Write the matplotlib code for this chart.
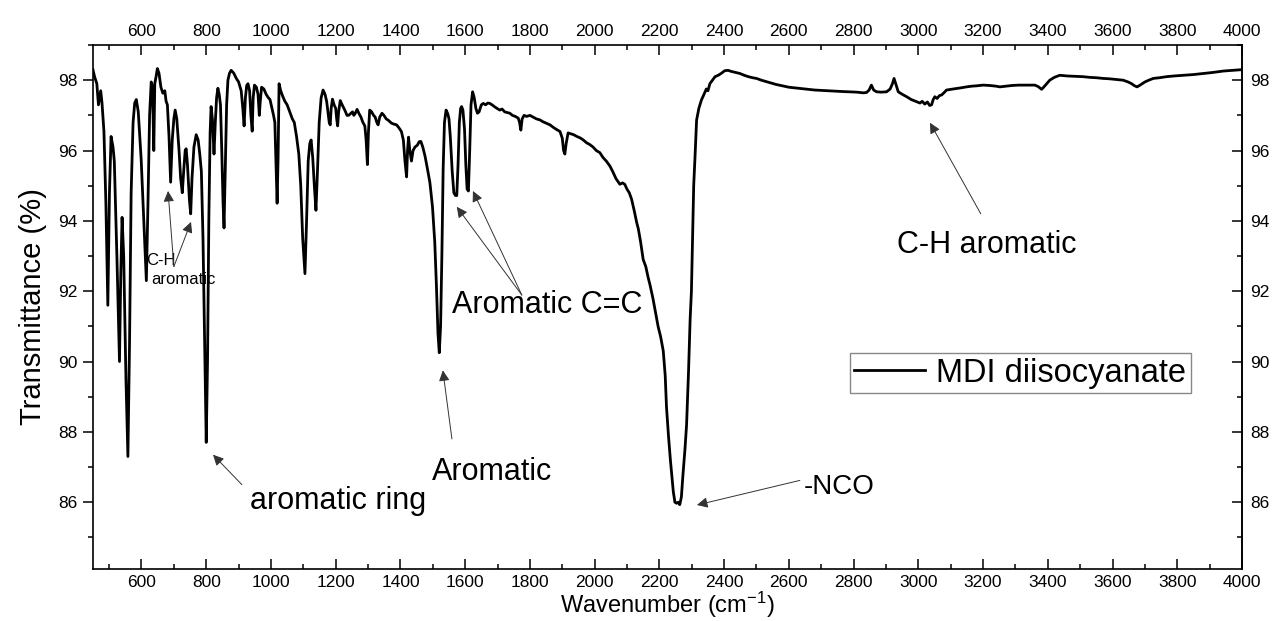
import matplotlib
matplotlib.use("Agg")
import matplotlib.pyplot as plt
from matplotlib.ticker import MultipleLocator

plt.rcParams['font.family'] = ['Liberation Sans', 'DejaVu Sans']
plt.rcParams['mathtext.fontset'] = 'custom'
plt.rcParams['mathtext.rm'] = 'Liberation Sans'
plt.rcParams['mathtext.it'] = 'Liberation Sans'
plt.rcParams['mathtext.bf'] = 'Liberation Sans:bold'

wavenumber = [
    450, 455, 462, 467, 474, 478, 484, 490, 496, 501, 506, 512, 516, 524, 532, 536, 540, 545, 552, 558,
    563, 568, 574, 579, 584, 590, 599, 607, 615, 620, 625, 630, 634, 638, 641, 645, 649, 654, 660, 666,
    672, 676, 680, 685, 690, 695, 700, 704, 709, 716, 721, 726, 731, 735, 738, 742, 748, 752, 756, 762,
    769, 775, 780, 785, 790, 795, 800, 804, 808, 812, 815, 819, 824, 828, 832, 836, 840, 844, 848, 852,
    855, 859, 863, 867, 872, 877, 885, 893, 900, 908, 913, 917, 921, 925, 929, 934, 938, 942, 945, 949,
    955, 960, 964, 967, 971, 978, 985, 992, 997, 1002, 1008, 1012, 1016, 1019, 1022, 1025, 1030, 1036, 1043, 1050,
    1058, 1066, 1072, 1079, 1086, 1092, 1098, 1105, 1110, 1115, 1120, 1124, 1129, 1134, 1139, 1144, 1149, 1155, 1161, 1167,
    1172, 1176, 1180, 1183, 1186, 1190, 1195, 1200, 1203, 1206, 1209, 1214, 1220, 1228, 1235, 1240, 1246, 1252, 1256, 1260,
    1266, 1272, 1278, 1284, 1290, 1294, 1298, 1301, 1305, 1311, 1317, 1322, 1327, 1331, 1336, 1343, 1349, 1356, 1364, 1372,
    1380, 1388, 1395, 1403, 1409, 1414, 1419, 1422, 1425, 1429, 1434, 1439, 1445, 1452, 1458, 1463, 1469, 1476, 1483, 1491,
    1499, 1506, 1511, 1516, 1520, 1524, 1528, 1532, 1536, 1541, 1546, 1550, 1554, 1560, 1565, 1570, 1574, 1578, 1582, 1586,
    1589, 1593, 1598, 1602, 1606, 1610, 1614, 1618, 1623, 1628, 1633, 1638, 1643, 1650, 1656, 1663, 1670, 1676, 1683, 1690,
    1698, 1707, 1714, 1722, 1730, 1738, 1746, 1755, 1764, 1768, 1772, 1776, 1782, 1790, 1800, 1810, 1820, 1831, 1840, 1850,
    1862, 1872, 1882, 1893, 1900, 1904, 1908, 1912, 1918, 1925, 1935, 1945, 1955, 1965, 1975, 1985, 1995, 2005, 2016, 2026,
    2036, 2047, 2056, 2066, 2078, 2086, 2093, 2100, 2107, 2114, 2122, 2130, 2135, 2142, 2150, 2158, 2165, 2171, 2180, 2188,
    2196, 2204, 2212, 2218, 2222, 2228, 2234, 2238, 2243, 2248, 2253, 2258, 2263, 2268, 2273, 2279, 2284, 2290, 2295, 2299,
    2303, 2306, 2310, 2315, 2322, 2330, 2338, 2345, 2350, 2356, 2364, 2372, 2382, 2392, 2402, 2412, 2422, 2436, 2449, 2462,
    2475, 2488, 2500, 2515, 2530, 2545, 2560, 2580, 2600, 2620, 2640, 2660, 2680, 2700, 2720, 2740, 2760, 2789, 2810, 2830,
    2840, 2848, 2855, 2862, 2871, 2885, 2902, 2913, 2920, 2925, 2930, 2938, 2950, 2964, 2978, 2994, 3005, 3012, 3020, 3028,
    3035, 3041, 3046, 3051, 3058, 3065, 3072, 3080, 3087, 3100, 3115, 3130, 3149, 3165, 3180, 3200, 3220, 3240, 3252, 3270,
    3290, 3310, 3324, 3345, 3360, 3370, 3381, 3392, 3406, 3420, 3437, 3460, 3485, 3509, 3530, 3550, 3571, 3590, 3610, 3633,
    3648, 3659, 3668, 3676, 3685, 3700, 3712, 3726, 3745, 3767, 3790, 3818, 3850, 3880, 3910, 3942, 3970, 4000,
]

transmittance = [
    98.3, 98.1, 97.9, 97.3, 97.7, 97.35, 96.54, 94.5, 91.6, 94.8, 96.4, 96.1, 95.7, 93.0, 90.0, 92.5, 94.1, 93.0, 89.5, 87.3,
    90.5, 94.8, 96.8, 97.35, 97.45, 97.1, 95.75, 94.0, 92.3, 94.5, 97.0, 97.95, 97.8, 96.0, 97.9, 98.1, 98.33, 98.2, 97.8, 97.63,
    97.7, 97.4, 97.3, 96.4, 95.1, 96.3, 96.9, 97.15, 96.9, 96.0, 95.2, 94.8, 95.5, 96.0, 96.05, 95.6, 94.6, 94.2, 95.2, 96.1,
    96.45, 96.3, 95.9, 95.4, 93.5, 90.5, 87.7, 90.0, 94.0, 96.5, 97.25, 96.9, 95.9, 96.8, 97.5, 97.77, 97.6, 97.3, 96.0, 94.5,
    93.8, 95.5, 97.3, 98.0, 98.2, 98.28, 98.2, 98.05, 97.95, 97.7, 97.2, 96.7, 97.5, 97.85, 97.9, 97.7, 97.0, 96.55, 97.5, 97.86,
    97.8, 97.6, 97.0, 97.4, 97.8, 97.75, 97.6, 97.5, 97.45, 97.25, 97.0, 96.8, 95.5, 94.5, 95.8, 97.9, 97.7, 97.55, 97.4, 97.3,
    97.1, 96.9, 96.8, 96.4, 95.9, 95.0, 93.5, 92.5, 94.0, 95.7, 96.2, 96.3, 95.8, 95.0, 94.3, 95.5, 96.8, 97.5, 97.72, 97.6,
    97.4, 97.1, 96.8, 96.73, 97.2, 97.46, 97.3, 97.2, 96.9, 96.7, 97.1, 97.42, 97.3, 97.15, 97.0, 97.0, 97.05, 97.1, 97.0, 97.05,
    97.17, 97.05, 96.95, 96.8, 96.7, 96.3, 95.6, 96.5, 97.15, 97.1, 97.0, 96.95, 96.8, 96.73, 96.95, 97.06, 97.0, 96.9, 96.85, 96.78,
    96.75, 96.73, 96.65, 96.54, 96.3, 95.7, 95.25, 96.0, 96.38, 96.0, 95.7, 96.0, 96.1, 96.15, 96.25, 96.26, 96.1, 95.84, 95.5, 95.09,
    94.4, 93.4, 92.2, 90.8, 90.25, 91.0, 93.0, 95.5, 96.8, 97.15, 97.05, 96.9, 96.4, 95.4, 94.8, 94.72, 94.72, 95.6, 96.8, 97.2,
    97.25, 97.15, 96.6, 95.6, 94.9, 94.85, 96.0, 97.3, 97.67, 97.5, 97.2, 97.06, 97.1, 97.3, 97.34, 97.3, 97.35, 97.34, 97.3, 97.25,
    97.2, 97.15, 97.18, 97.1, 97.08, 97.06, 97.0, 96.97, 96.92, 96.8, 96.58, 96.9, 97.0, 96.97, 97.0, 96.95, 96.9, 96.87, 96.82, 96.78,
    96.73, 96.66, 96.6, 96.54, 96.35, 96.0, 95.9, 96.2, 96.5, 96.48, 96.45, 96.4, 96.36, 96.3, 96.22, 96.17, 96.1, 96.0, 95.94, 95.8,
    95.7, 95.56, 95.4, 95.2, 95.04, 95.08, 95.04, 94.9, 94.8, 94.62, 94.3, 93.95, 93.77, 93.4, 92.9, 92.7, 92.4, 92.18, 91.8, 91.4,
    91.0, 90.7, 90.3, 89.6, 88.7, 87.9, 87.2, 86.8, 86.3, 86.0, 85.97, 86.0, 85.93, 86.15, 86.8, 87.5, 88.2, 89.7, 91.2, 92.0,
    93.8, 95.0, 95.8, 96.87, 97.2, 97.44, 97.6, 97.75, 97.7, 97.9, 98.0, 98.1, 98.14, 98.2, 98.27, 98.28, 98.25, 98.22, 98.19, 98.14,
    98.1, 98.07, 98.05, 98.0, 97.96, 97.92, 97.88, 97.84, 97.8, 97.78, 97.76, 97.74, 97.72, 97.71, 97.7, 97.69, 97.68, 97.67, 97.66, 97.64,
    97.65, 97.72, 97.86, 97.72, 97.67, 97.66, 97.67, 97.75, 97.9, 98.05, 97.9, 97.67, 97.6, 97.53, 97.45, 97.39, 97.35, 97.4, 97.32, 97.38,
    97.28, 97.3, 97.45, 97.53, 97.48, 97.56, 97.58, 97.65, 97.72, 97.74, 97.76, 97.78, 97.81, 97.83, 97.84, 97.86, 97.85, 97.83, 97.81, 97.83,
    97.85, 97.86, 97.86, 97.86, 97.86, 97.82, 97.74, 97.85, 98.0, 98.08, 98.14, 98.12, 98.11, 98.1, 98.08, 98.07, 98.05, 98.04, 98.02, 98.0,
    97.95, 97.9, 97.84, 97.81, 97.86, 97.95, 98.0, 98.05, 98.07, 98.1, 98.12, 98.14, 98.16, 98.19, 98.22, 98.26, 98.28, 98.3,
]

series_label = "MDI diisocyanate"
x_label = "Wavenumber (cm$^{-1}$)"
y_label = "Transmittance (%)"
x_ticks = list(range(600, 4001, 200))
y_ticks = [86, 88, 90, 92, 94, 96, 98]

fig = plt.figure(figsize=(12.82, 6.21), dpi=100)
ax = fig.add_axes([0.0725, 0.0837, 0.8963, 0.8438])

ax.plot(wavenumber, transmittance, color='black', lw=2.0, label=series_label)

ax.set_xlim(450, 4000)
ax.set_ylim(84.1, 99.0)
ax.set_xticks(x_ticks)
ax.xaxis.set_minor_locator(MultipleLocator(100))
ax.set_yticks(y_ticks)
ax.yaxis.set_minor_locator(MultipleLocator(1))

for s in ax.spines.values():
    s.set_linewidth(1.2)

ax.tick_params(axis='x', which='both', direction='in', top=True, bottom=True,
               labeltop=True, labelbottom=True, labelsize=12.5, width=1.1, pad=4)
ax.tick_params(axis='x', which='major', length=7)
ax.tick_params(axis='x', which='minor', length=3.5)
ax.tick_params(axis='y', which='both', direction='out', left=True, right=False,
               labelsize=12.5, width=1.1, pad=4)
ax.tick_params(axis='y', which='major', length=7)
ax.tick_params(axis='y', which='minor', length=3.5)

sec = ax.secondary_yaxis('right')
sec.set_yticks(y_ticks)
sec.yaxis.set_minor_locator(MultipleLocator(1))
sec.tick_params(axis='y', which='both', direction='in', labelsize=12.5, width=1.1, pad=6)
sec.tick_params(axis='y', which='major', length=7)
sec.tick_params(axis='y', which='minor', length=3.5)
sec.spines['right'].set_linewidth(1.2)

ax.set_xlabel(x_label, fontsize=17)
ax.xaxis.set_label_coords(0.5, -0.040)
ax.set_ylabel(y_label, fontsize=21, labelpad=8)

arrow_kw = dict(arrowstyle='-|>', color='#333333', lw=0.7, mutation_scale=16, shrinkA=0, shrinkB=0)

# small C-H aromatic label (left)
ax.text(614, 92.87, "C-H", fontsize=12, ha='left', va='center')
ax.text(630, 92.34, "aromatic", fontsize=12, ha='left', va='center')
ax.annotate("", xy=(682, 94.85), xytext=(700, 92.7), arrowprops=arrow_kw)
ax.annotate("", xy=(753, 93.97), xytext=(700, 92.7), arrowprops=arrow_kw)

# aromatic ring
ax.text(935, 86.03, "aromatic ring", fontsize=22, ha='left', va='center')
ax.annotate("", xy=(821, 87.35), xytext=(910, 86.5), arrowprops=arrow_kw)

# Aromatic
ax.text(1497, 86.87, "Aromatic", fontsize=22, ha='left', va='center')
ax.annotate("", xy=(1531, 89.75), xytext=(1559, 87.8), arrowprops=arrow_kw)

# Aromatic C=C
ax.text(1559, 91.6, "Aromatic C=C", fontsize=22, ha='left', va='center')
ax.annotate("", xy=(1574, 94.4), xytext=(1775, 91.89), arrowprops=arrow_kw)
ax.annotate("", xy=(1624, 94.85), xytext=(1775, 91.89), arrowprops=arrow_kw)

# -NCO
ax.text(2646, 86.42, "-NCO", fontsize=20, ha='left', va='center')
ax.annotate("", xy=(2316, 85.92), xytext=(2634, 86.62), arrowprops=arrow_kw)

# C-H aromatic (right)
ax.text(2934, 93.32, "C-H aromatic", fontsize=22, ha='left', va='center')
ax.annotate("", xy=(3036, 96.79), xytext=(3193, 94.2), arrowprops=arrow_kw)

leg = ax.legend(loc='center', bbox_to_anchor=(0.807, 0.374), fontsize=23.5,
                frameon=True, fancybox=False, edgecolor='#888888', framealpha=1,
                handlelength=2.15, handletextpad=0.35, borderpad=0.15, borderaxespad=0)
leg.get_frame().set_linewidth(1.0)

fig.savefig("out.png", dpi=100)
